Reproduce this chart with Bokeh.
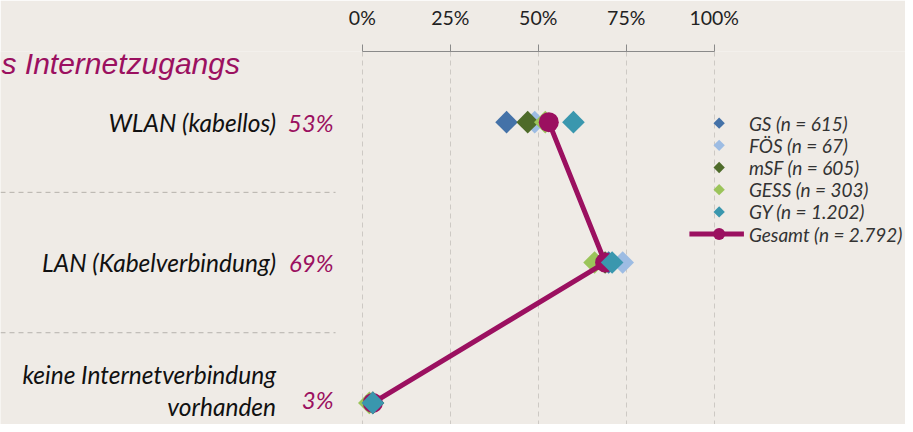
import numpy as np
from bokeh.plotting import figure
from bokeh.models import (Range1d, LinearAxis, FixedTicker, PrintfTickFormatter,
                          ColumnDataSource, Label, Grid)
from bokeh.core.properties import value
from bokeh.embed import file_html
from bokeh.resources import INLINE

# ---------------- data ----------------
categories = ["WLAN (kabellos)", "LAN (Kabelverbindung)", "keine Internetverbindung\nvorhanden"]
gs = [41, 70, 3]
foes = [49, 74, 3]
msf = [47, 69, 3]
gess = [52, 66, 2]
gy = [60, 71, 3]
gesamt = [53, 69, 3]
series_names = ["GS (n = 615)", "FÖS (n = 67)", "mSF (n = 605)", "GESS (n = 303)", "GY (n = 1.202)"]
gesamt_name = "Gesamt (n = 2.792)"
tick_values = [0, 25, 50, 75, 100]
title_text = "s Internetzugangs"

# ---------------- styles / layout ----------------
BG = "#efebe6"
PURPLE = "#9b1060"
colors = ["#4472a8", "#9dbce3", "#4e6b2a", "#9bc45a", "#3a97ae"]
FONT = "Lato"

W, H = 905, 424
SX, SY = W / 913.0, H / 432.0      # reference pixel -> figure pixel
TOP = 52 * SY                      # axis line position
X0_PX, X100_PX = 365 * SX, 720 * SX
PXPCT = (X100_PX - X0_PX) / 100.0
ROW0_PY = 124 * SY
ROW_STEP = (410 - 124) / 2.0 * SY

def rx(px_ref):
    return (px_ref * SX - X0_PX) / PXPCT

def ry(py_ref):
    return (py_ref * SY - ROW0_PY) / ROW_STEP

x_start = (0 - X0_PX) / PXPCT
x_end = (W - X0_PX) / PXPCT
y_top = (TOP - ROW0_PY) / ROW_STEP
y_bottom = (H - ROW0_PY) / ROW_STEP

p = figure(width=W, height=H, output_backend="svg", toolbar_location=None,
           x_range=Range1d(x_start, x_end), y_range=Range1d(y_bottom, y_top),
           x_axis_location=None, y_axis_location=None,
           min_border_left=0, min_border_right=0, min_border_bottom=0,
           min_border_top=int(round(TOP)),
           background_fill_color=BG, border_fill_color=BG, outline_line_color=None)
p.xgrid.visible = False
p.ygrid.visible = False

# top axis
ax = LinearAxis(ticker=FixedTicker(ticks=tick_values), formatter=PrintfTickFormatter(format="%d%%"),
                bounds=(0, 100))
ax.axis_line_color = "#8a8a8a"
ax.major_tick_line_color = "#8a8a8a"
ax.major_tick_out = 7
ax.major_tick_in = 0
ax.minor_tick_line_color = None
ax.major_label_text_font = FONT
ax.major_label_text_font_size = "19.5px"
ax.major_label_text_color = "#222222"
ax.major_label_standoff = 16
p.add_layout(ax, "above")

grid = Grid(dimension=0, ticker=FixedTicker(ticks=tick_values),
            grid_line_color="#cdc9c4", grid_line_dash="5 4", grid_line_width=1)
p.add_layout(grid)

rows = list(range(len(categories)))

# separators between rows
seps = [r + 0.5 for r in rows[:-1]]
p.segment(x0=[x_start] * len(seps), y0=seps, x1=[rx(338)] * len(seps), y1=seps,
          line_color="#b5b1ac", line_dash="5 4", line_width=1)

# category labels
lab_src = ColumnDataSource(dict(x=[rx(278)] * 3, y=rows, text=categories, yo=[0, 0, -12]))
p.text(x="x", y="y", text="text", y_offset="yo", source=lab_src, text_align="right",
       text_baseline="middle", text_font=value(FONT), text_font_style="italic",
       text_font_size="24.5px", text_color="#111111", text_line_height=1.1)

pct_src = ColumnDataSource(dict(x=[rx(336)] * 3, y=rows,
                                text=[f"{v}%" for v in gesamt], yo=[0, 0, -3]))
p.text(x="x", y="y", text="text", y_offset="yo", source=pct_src, text_align="right",
       text_baseline="middle", text_font=value(FONT), text_font_style="italic",
       text_font_size="24px", text_color=PURPLE)

# title (left part of the heading is outside the crop)
p.add_layout(Label(x=x_start, y=ry(64), x_offset=1, text=title_text, text_align="left",
                   text_baseline="alphabetic", text_font="Liberation Sans",
                   text_font_style="italic", text_font_size="30px", text_color=PURPLE))

# series markers (drawing order: GS, FÖS, mSF, GESS, Gesamt, GY)
series_vals = [gs, foes, msf, gess, gy]
for vals, col in zip(series_vals[:4], colors[:4]):
    p.scatter(x=vals, y=rows, marker="square", angle=np.pi / 4, size=16,
              fill_color=col, line_color=None)

p.line(x=gesamt, y=rows, line_color=PURPLE, line_width=5)
p.scatter(x=gesamt, y=rows, marker="circle", size=20, fill_color=PURPLE, line_color=None)

p.scatter(x=gy, y=rows, marker="square", angle=np.pi / 4, size=16,
          fill_color=colors[4], line_color=None)

# legend (drawn in plot space, to the right of the axis)
LEG_ROW0, LEG_STEP = 125, 22.6
leg_y = [ry(LEG_ROW0 + i * LEG_STEP) for i in range(len(series_names) + 1)]
leg_mx = rx(725)
leg_tx = rx(755)
p.scatter(x=[leg_mx] * len(series_names), y=leg_y[:len(series_names)], marker="square",
          angle=np.pi / 4, size=8, fill_color=colors, line_color=None)
p.segment(x0=[rx(695)], y0=[leg_y[-1]], x1=[rx(750)], y1=[leg_y[-1]],
          line_color=PURPLE, line_width=5)
p.scatter(x=[leg_mx], y=[leg_y[-1]], marker="circle", size=12, fill_color=PURPLE, line_color=None)
p.text(x=[leg_tx] * (len(series_names) + 1), y=leg_y, text=series_names + [gesamt_name],
       text_align="left", text_baseline="middle", text_font=value(FONT),
       text_font_style="italic", text_font_size="19px", text_color="#333333")

open("out.html", "w").write(file_html(p, INLINE))
